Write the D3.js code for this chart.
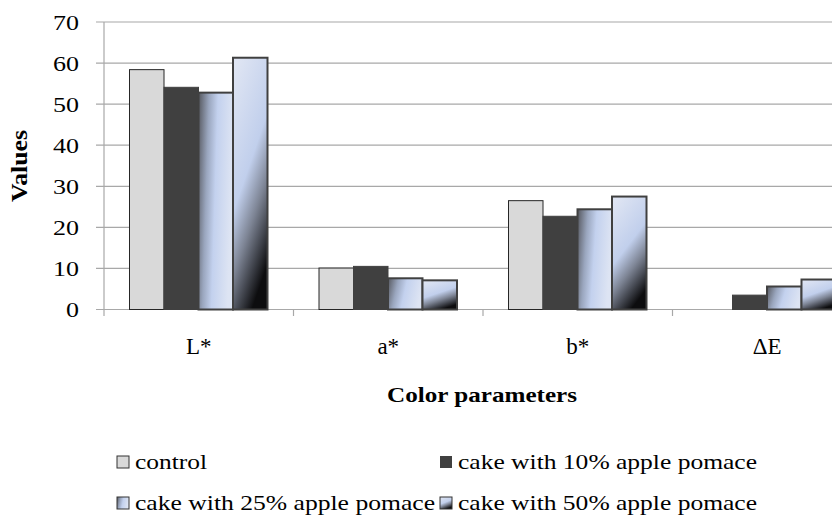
<!DOCTYPE html>
<html><head><meta charset="utf-8">
<script src="https://cdn.jsdelivr.net/npm/d3@7"></script>
<style>html,body{margin:0;padding:0;background:#fff;}svg{display:block;} text{font-family:"Liberation Serif","Tinos","Times New Roman","DejaVu Serif",serif;}</style>
</head><body>
<svg id="chart" width="832" height="515"></svg>
<script>
const categories = ["L*", "a*", "b*", "\u0394E"];
const seriesNames = ["control", "cake with 10% apple pomace", "cake with 25% apple pomace", "cake with 50% apple pomace"];
const control = [58.4, 10.1, 26.5, 0];
const apple10 = [54.1, 10.5, 22.7, 3.5];
const apple25 = [52.8, 7.6, 24.4, 5.6];
const apple50 = [61.3, 7.1, 27.5, 7.3];
const yTicks = [0, 10, 20, 30, 40, 50, 60, 70];
const seriesValues = [control, apple10, apple25, apple50];

const svg = d3.select("#chart");
const defs = svg.append("defs");

const g25 = defs.append("linearGradient").attr("id", "g25").attr("x1", 0).attr("y1", 0).attr("x2", 1).attr("y2", 0.2);
[[0, "#55575e"], [0.3, "#9aa6be"], [0.55, "#c3d1ee"], [1, "#dde4f3"]].forEach(s => g25.append("stop").attr("offset", s[0]).attr("stop-color", s[1]));
const g50 = defs.append("linearGradient").attr("id", "g50").attr("x1", 0.15).attr("y1", 0).attr("x2", 0.55).attr("y2", 1);
[[0, "#dfe5f3"], [0.48, "#c1cfec"], [0.7, "#7d8494"], [1, "#0d0d0f"]].forEach(s => g50.append("stop").attr("offset", s[0]).attr("stop-color", s[1]));

const fills = ["#d9d9d9", "#404040", "url(#g25)", "url(#g50)"];
const strokes = ["#262626", "#404040", "#404040", "#404040"];
const strokeW = [1, 1, 2, 2];

const x0 = d3.scaleBand().domain(categories).range([104, 862]);
const x1 = d3.scaleBand().domain(seriesNames).range([25.5, 163.5]);
const y = d3.scaleLinear().domain([0, 70]).range([309.5, 22]);

function fit(sel, w) { sel.attr("textLength", w).attr("lengthAdjust", "spacingAndGlyphs"); }

svg.append("g").selectAll("line").data(yTicks).join("line")
  .attr("x1", 96).attr("x2", 832)
  .attr("y1", d => y(d)).attr("y2", d => y(d))
  .attr("stroke", "#a8a8a8").attr("stroke-width", 1.2);

svg.append("line").attr("x1", 104).attr("x2", 104).attr("y1", y(70)).attr("y2", 316)
  .attr("stroke", "#a8a8a8").attr("stroke-width", 1.2);

svg.append("g").selectAll("line").data(categories.slice(1)).join("line")
  .attr("x1", d => x0(d)).attr("x2", d => x0(d)).attr("y1", y(0)).attr("y2", 316)
  .attr("stroke", "#a8a8a8").attr("stroke-width", 1.2);

svg.append("g").selectAll("text").data(yTicks).join("text")
  .attr("x", 79).attr("y", d => y(d)).attr("dy", "0.36em")
  .attr("text-anchor", "end").attr("font-size", 22)
  .attr("fill", "#000").text(d => d)
  .attr("textLength", d => String(d).length * 13).attr("lengthAdjust", "spacingAndGlyphs");

seriesNames.forEach((s, i) => {
  svg.append("g").selectAll("rect").data(categories.map((c, j) => ({c, v: seriesValues[i][j]}))).join("rect")
    .attr("x", d => x0(d.c) + x1(s))
    .attr("width", x1.bandwidth())
    .attr("y", d => y(d.v))
    .attr("height", d => y(0) - y(d.v))
    .attr("fill", fills[i])
    .attr("stroke", d => d.v > 0 ? strokes[i] : "none")
    .attr("stroke-width", strokeW[i]);
});

svg.append("g").selectAll("text").data(categories).join("text")
  .attr("x", d => x0(d) + x0.bandwidth() / 2).attr("y", 354)
  .attr("text-anchor", "middle").attr("font-size", 23)
  .text(d => d);

svg.append("text").attr("x", 482).attr("y", 402).attr("text-anchor", "middle")
  .attr("font-size", 22).attr("font-weight", "bold")
  .text("Color parameters").call(fit, 190);
svg.append("text").attr("transform", "translate(27,166) rotate(-90)").attr("text-anchor", "middle")
  .attr("font-size", 23).attr("font-weight", "bold")
  .text("Values").call(fit, 72);

const legPos = [[117, 456], [440, 456], [117, 497], [440, 497]];
const legW = [72, 299, 300, 299];
const leg = svg.append("g").selectAll("g").data(seriesNames).join("g")
  .attr("transform", (d, i) => `translate(${legPos[i][0]},${legPos[i][1]})`);
leg.append("rect").attr("width", 12).attr("height", 12)
  .attr("fill", (d, i) => fills[i]).attr("stroke", (d, i) => i === 1 ? "none" : "#333").attr("stroke-width", 1);
leg.append("text").attr("x", 18).attr("y", 13)
  .attr("font-size", 22)
  .text(d => d)
  .attr("textLength", (d, i) => legW[i]).attr("lengthAdjust", "spacingAndGlyphs");
</script>
</body></html>
